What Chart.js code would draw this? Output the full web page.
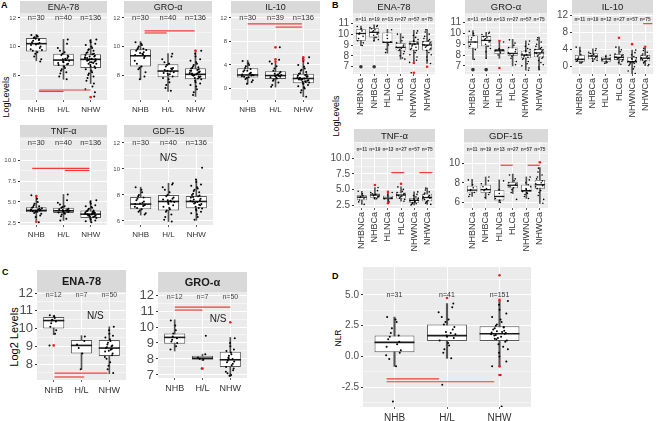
<!DOCTYPE html>
<html>
<head>
<meta charset="utf-8">
<script src="https://cdn.jsdelivr.net/npm/chart.js@4.4.1/dist/chart.umd.min.js"></script>
<style>
  body { margin: 0; width: 660px; height: 421px; background: #fff; position: relative; overflow: hidden; font-family: "Liberation Sans", Arial, sans-serif; }
  canvas { position: absolute; }
  .lab { position: absolute; font-weight: bold; font-size: 9px; color: #000; }
  .yt { position: absolute; transform: translate(-50%, -50%) rotate(-90deg); white-space: nowrap; color: #000; }
</style>
</head>
<body>
<div class="lab" style="left:1px;top:0px">A</div>
<div class="lab" style="left:332px;top:0px">B</div>
<div class="lab" style="left:2px;top:267px">C</div>
<div class="lab" style="left:332px;top:271px">D</div>
<div class="yt" style="left:6px;top:97px;font-size:9px">LogLevels</div>
<div class="yt" style="left:336px;top:116px;font-size:9px">LogLevels</div>
<div class="yt" style="left:14px;top:337px;font-size:11px">Log2 Levels</div>
<div class="yt" style="left:338px;top:338px;font-size:8.5px">NLR</div>
<script>
// groups and counts
const groups3 = ['NHB', 'H/L', 'NHW'];
const groups6 = ['NHBNCa', 'NHBCa', 'HLNCa', 'HLCa', 'NHWNCa', 'NHWCa'];
const nA = ['n=30', 'n=40', 'n=136'];
const nAil10 = ['n=30', 'n=39', 'n=136'];
const nB = ['n=11', 'n=19', 'n=13', 'n=27', 'n=57', 'n=75'];
const nBil10 = ['n=11', 'n=19', 'n=12', 'n=27', 'n=57', 'n=75'];
const nC = ['n=12', 'n=7', 'n=50'];
const nD = ['n=31', 'n=41', 'n=151'];

// box stats per group: [lower whisker, q1, median, q3, upper whisker]
// significance bars: [from group, to group, level]

// --- A: ENA-78
const aEnaBox = [[9.0, 9.65, 10.2, 10.6, 10.85], [7.7, 8.65, 9.05, 9.5, 10.5], [7.4, 8.5, 9.1, 9.45, 10.5]];
const aEnaPts = [
  [10.8, 10.75, 10.7, 10.65, 10.6, 10.5, 10.4, 10.3, 10.25, 10.2, 10.1, 10.0, 9.9, 9.8, 9.7, 9.6, 9.5, 9.3, 9.1, 8.95, 10.55, 10.45, 9.75, 10.15],
  [10.5, 10.2, 9.9, 9.7, 9.6, 9.5, 9.4, 9.3, 9.2, 9.1, 9.05, 9.0, 8.95, 8.9, 8.8, 8.7, 8.6, 8.5, 8.4, 8.3, 8.2, 8.1, 7.9, 7.7, 9.15, 8.85, 9.35, 8.75],
  [10.5, 10.4, 10.3, 10.2, 10.1, 10.0, 9.9, 9.8, 9.75, 9.7, 9.6, 9.55, 9.5, 9.45, 9.4, 9.35, 9.3, 9.25, 9.2, 9.15, 9.1, 9.05, 9.0, 8.95, 8.9, 8.85, 8.8, 8.7, 8.6, 8.5, 8.4, 8.3, 8.2, 8.1, 8.0, 7.9, 7.8, 7.6, 7.4, 7.2, 7.0, 6.8, 6.5, 9.2, 9.0, 8.9, 9.3, 8.8, 9.1, 8.6]
];
const aEnaRed = [[], [], [6.45]];
const aEnaSig = [[1.1, 3.0, 6.95], [1.1, 2.0, 6.85]];
const aEnaTicks = [8, 10, 12];

// --- A: GRO-α
const aGroBox = [[7.7, 8.6, 9.35, 9.8, 10.35], [6.85, 7.85, 8.28, 8.75, 9.5], [6.5, 7.7, 8.05, 8.47, 9.75]];
const aGroPts = [
  [10.3, 10.2, 10.1, 10.0, 9.9, 9.85, 9.8, 9.7, 9.6, 9.5, 9.4, 9.3, 9.2, 9.0, 8.8, 8.6, 8.5, 8.4, 8.2, 7.9, 7.7, 9.45, 9.75, 9.55],
  [9.5, 9.3, 9.1, 8.9, 8.8, 8.7, 8.6, 8.5, 8.4, 8.3, 8.25, 8.2, 8.1, 8.0, 7.9, 7.8, 7.7, 7.5, 7.3, 7.1, 6.9, 8.35, 8.15, 8.45, 8.05],
  [9.7, 9.5, 9.3, 9.1, 9.0, 8.9, 8.8, 8.7, 8.6, 8.55, 8.5, 8.45, 8.4, 8.35, 8.3, 8.25, 8.2, 8.15, 8.1, 8.05, 8.0, 7.95, 7.9, 7.85, 7.8, 7.75, 7.7, 7.6, 7.5, 7.4, 7.3, 7.2, 7.0, 6.8, 6.6, 8.2, 8.0, 8.3, 7.9, 8.1]
];
const aGroRed = [[], [], [9.7]];
const aGroSig = [[1.15, 2.97, 11.1], [1.15, 1.95, 10.95]];
const aGroTicks = [8, 10, 12];

// --- A: IL-10
const aIlBox = [[0.75, 1.85, 2.3, 3.45, 4.8], [0.25, 1.6, 2.2, 2.95, 4.3], [-1.4, 0.9, 1.7, 2.5, 5.1]];
const aIlPts = [
  [4.7, 4.3, 4.0, 3.8, 3.5, 3.3, 3.1, 2.9, 2.7, 2.5, 2.4, 2.3, 2.2, 2.1, 2.0, 1.9, 1.8, 1.6, 1.4, 1.1, 0.8, 2.6, 2.25, 3.0],
  [7.0, 4.9, 4.6, 4.2, 3.8, 3.4, 3.0, 2.8, 2.6, 2.5, 2.4, 2.3, 2.2, 2.1, 2.0, 1.9, 1.8, 1.7, 1.5, 1.3, 1.0, 0.6, 0.3, 2.15, 2.35],
  [5.3, 5.0, 4.7, 4.3, 4.0, 3.7, 3.4, 3.2, 3.0, 2.8, 2.6, 2.5, 2.4, 2.3, 2.2, 2.1, 2.0, 1.9, 1.8, 1.7, 1.6, 1.5, 1.4, 1.3, 1.2, 1.1, 1.0, 0.9, 0.8, 0.6, 0.4, 0.2, 0.0, -0.3, -0.7, -1.4, 1.75, 1.55, 2.05, 1.25]
];
const aIlRed = [[], [7.0, 4.95, 4.55], [5.3, 4.9]];
const aIlSig = [[1.0, 2.95, 11.0], [2.0, 2.95, 10.45]];
const aIlTicks = [0, 4, 8, 12];

// --- A: TNF-α
const aTnfBox = [[2.8, 3.77, 4.0, 4.37, 5.8], [2.8, 3.7, 3.95, 4.3, 5.9], [2.6, 3.1, 3.55, 4.0, 5.2]];
const aTnfPts = [
  [5.8, 5.4, 5.0, 4.8, 4.6, 4.5, 4.4, 4.3, 4.2, 4.15, 4.1, 4.05, 4.0, 3.95, 3.9, 3.85, 3.8, 3.7, 3.6, 3.4, 3.2, 2.6, 4.25, 3.9],
  [5.9, 5.2, 4.9, 4.7, 4.5, 4.4, 4.3, 4.2, 4.1, 4.05, 4.0, 3.95, 3.9, 3.85, 3.8, 3.75, 3.7, 3.6, 3.5, 3.3, 3.0, 2.8, 4.15, 3.98],
  [5.2, 5.0, 4.8, 4.6, 4.5, 4.4, 4.3, 4.2, 4.1, 4.0, 3.95, 3.9, 3.85, 3.8, 3.75, 3.7, 3.65, 3.6, 3.55, 3.5, 3.45, 3.4, 3.35, 3.3, 3.25, 3.2, 3.1, 3.0, 2.9, 2.8, 2.7, 2.6, 3.6, 3.5, 3.4, 3.7]
];
const aTnfRed = [[5.7, 2.65], [], []];
const aTnfSig = [[0.85, 2.95, 9.0], [2.05, 2.95, 8.75]];
const aTnfTicks = [2.5, 5, 7.5, 10];
const aTnfTickLabels = ['2.5', '5.0', '7.5', '10.0'];

// --- A: GDF-15
const aGdfBox = [[6.45, 6.9, 7.3, 7.85, 8.6], [5.95, 6.8, 7.5, 8.0, 8.9], [6.05, 6.97, 7.5, 7.92, 9.2]];
const aGdfPts = [
  [8.6, 8.4, 8.2, 8.0, 7.9, 7.8, 7.7, 7.6, 7.5, 7.4, 7.3, 7.25, 7.2, 7.1, 7.0, 6.9, 6.8, 6.7, 6.6, 6.5, 7.35, 7.15],
  [8.9, 8.8, 8.6, 8.4, 8.2, 8.0, 7.9, 7.8, 7.7, 7.6, 7.5, 7.45, 7.4, 7.3, 7.2, 7.1, 7.0, 6.9, 6.8, 6.7, 6.5, 6.3, 6.1, 5.95, 7.55, 7.65],
  [10.1, 9.2, 9.0, 8.8, 8.7, 8.6, 8.5, 8.4, 8.3, 8.2, 8.1, 8.0, 7.95, 7.9, 7.8, 7.7, 7.6, 7.55, 7.5, 7.45, 7.4, 7.35, 7.3, 7.2, 7.1, 7.0, 6.95, 6.9, 6.8, 6.7, 6.6, 6.5, 6.3, 6.1, 7.65, 7.25, 7.85]
];
const aGdfTicks = [6, 8, 10, 12];

// --- B: ENA-78
const bEnaBox = [[8.95, 9.4, 10.06, 10.45, 10.75], [9.35, 9.7, 10.17, 10.55, 10.85], [8.25, 9.2, 9.25, 10.15, 10.45],
  [7.7, 8.5, 8.78, 9.2, 10.05], [7.45, 8.5, 9.1, 9.35, 10.35], [7.3, 8.5, 9.0, 9.35, 10.45]];
const bEnaPts = [
  [10.7, 10.5, 10.3, 10.1, 10.0, 9.8, 9.6, 9.4, 9.2, 8.95],
  [10.8, 10.7, 10.6, 10.5, 10.4, 10.3, 10.2, 10.1, 10.0, 9.9, 9.7, 9.5, 9.4],
  [10.4, 9.9, 9.6, 9.3, 9.25, 9.2, 9.0, 8.6, 8.3],
  [10.0, 9.7, 9.4, 9.2, 9.0, 8.9, 8.8, 8.75, 8.7, 8.6, 8.5, 8.4, 8.2, 8.0, 7.8, 7.7],
  [10.3, 10.1, 9.9, 9.7, 9.5, 9.4, 9.3, 9.2, 9.15, 9.1, 9.05, 9.0, 8.9, 8.8, 8.7, 8.6, 8.5, 8.3, 8.1, 7.9, 7.6, 7.4, 6.45],
  [10.4, 10.2, 10.0, 9.8, 9.6, 9.5, 9.4, 9.3, 9.2, 9.1, 9.05, 9.0, 8.95, 8.9, 8.8, 8.7, 8.6, 8.5, 8.3, 8.1, 7.9, 7.6, 7.3]
];
const bEnaOut = [[7.0], [7.0], [], [], [], []];
const bEnaRed = [[], [], [], [], [7.35, 6.45], [7.0]];
const bEnaTicks = [7, 8, 9, 10, 11];

// --- B: GRO-α
const bGroBox = [[7.6, 8.6, 9.2, 9.8, 10.25], [7.7, 8.8, 9.35, 9.75, 10.1], [7.7, 8.1, 8.4, 8.55, 9.2],
  [7.0, 7.9, 8.15, 8.7, 9.45], [6.6, 7.7, 8.0, 8.4, 9.3], [6.6, 7.8, 8.2, 8.55, 9.65]];
const bGroPts = [
  [10.2, 10.0, 9.8, 9.6, 9.4, 9.2, 9.0, 8.8, 8.5, 7.6],
  [10.1, 10.0, 9.9, 9.7, 9.6, 9.5, 9.4, 9.3, 9.2, 9.0, 8.8, 8.6, 8.3, 7.7],
  [9.2, 8.6, 8.5, 8.45, 8.4, 8.3, 8.2, 8.0],
  [9.4, 9.1, 8.9, 8.7, 8.5, 8.3, 8.2, 8.1, 8.0, 7.9, 7.7, 7.4, 7.1],
  [9.3, 9.0, 8.8, 8.6, 8.5, 8.4, 8.3, 8.2, 8.1, 8.05, 8.0, 7.95, 7.9, 7.8, 7.7, 7.6, 7.4, 7.2, 7.0, 6.8, 6.6],
  [9.6, 9.4, 9.2, 9.0, 8.8, 8.7, 8.6, 8.5, 8.4, 8.3, 8.2, 8.15, 8.1, 8.0, 7.9, 7.8, 7.7, 7.5, 7.3, 7.1, 6.9, 6.7]
];
const bGroOut = [[6.65], [6.65], [], [], [], []];
const bGroRed = [[], [], [9.3, 6.8], [], [], []];
const bGroTicks = [7, 8, 9, 10, 11];

// --- B: IL-10
const bIlBox = [[0.8, 1.2, 1.75, 2.75, 4.6], [1.2, 1.75, 2.5, 3.15, 4.2], [0.8, 1.2, 1.8, 2.35, 2.75],
  [0.6, 1.6, 2.2, 3.0, 4.7], [-1.6, 0.8, 1.2, 2.2, 3.9], [0.25, 1.3, 2.0, 2.75, 4.35]];
const bIlPts = [
  [4.6, 3.7, 2.8, 2.3, 1.9, 1.7, 1.5, 1.3, 1.1, 0.9],
  [4.2, 3.8, 3.4, 3.1, 2.9, 2.7, 2.5, 2.4, 2.2, 2.0, 1.8, 1.5, 1.3],
  [2.7, 2.4, 2.0, 1.8, 1.6, 1.3, 1.0, 0.8],
  [4.6, 4.0, 3.5, 3.0, 2.7, 2.5, 2.3, 2.2, 2.1, 2.0, 1.8, 1.6, 1.3, 1.0, 0.6],
  [3.9, 3.3, 2.8, 2.4, 2.1, 1.9, 1.7, 1.5, 1.3, 1.2, 1.1, 1.0, 0.9, 0.8, 0.6, 0.3, 0.0, -0.5, -1.0, -1.6],
  [4.3, 3.8, 3.4, 3.0, 2.7, 2.5, 2.3, 2.1, 2.0, 1.9, 1.8, 1.6, 1.4, 1.2, 0.9, 0.5, 0.25]
];
const bIlRed = [[], [], [], [6.8], [5.3], [4.7]];
const bIlSig = [[5.85, 6.55, 10.1]];
const bIlTicks = [0, 4, 8, 12];

// --- B: TNF-α
const bTnfBox = [[2.6, 3.25, 3.75, 4.05, 4.7], [3.4, 3.65, 4.1, 4.35, 5.3], [2.9, 3.4, 3.6, 4.0, 4.5],
  [3.1, 3.55, 4.1, 4.5, 5.4], [2.5, 2.85, 3.25, 3.65, 4.6], [2.6, 3.1, 3.7, 4.3, 5.2]];
const bTnfPts = [
  [4.7, 4.3, 4.0, 3.8, 3.7, 3.5, 3.3, 3.0, 2.6],
  [5.3, 4.8, 4.5, 4.3, 4.2, 4.1, 4.0, 3.9, 3.8, 3.6, 3.5],
  [4.5, 4.1, 3.8, 3.6, 3.5, 3.3, 3.0],
  [5.4, 5.0, 4.7, 4.5, 4.3, 4.2, 4.1, 4.0, 3.9, 3.8, 3.6, 3.4, 3.1],
  [4.6, 4.2, 4.0, 3.8, 3.6, 3.5, 3.4, 3.3, 3.2, 3.1, 3.0, 2.9, 2.8, 2.7, 2.6, 2.5],
  [5.2, 4.9, 4.6, 4.4, 4.2, 4.0, 3.9, 3.8, 3.7, 3.6, 3.5, 3.4, 3.2, 3.0, 2.8, 2.6]
];
const bTnfRed = [[], [5.7], [4.6, 2.8], [5.9], [], []];
const bTnfSig = [[3.25, 4.25, 7.7], [5.4, 6.4, 7.7]];
const bTnfTicks = [2.5, 5, 7.5, 10];
const bTnfTickLabels = ['2.5', '5.0', '7.5', '10.0'];

// --- B: GDF-15
const bGdfBox = [[6.6, 7.0, 7.25, 7.7, 8.35], [6.35, 6.95, 7.3, 7.8, 8.6], [6.0, 6.2, 6.6, 7.25, 8.3],
  [6.9, 7.45, 7.75, 8.1, 8.9], [6.4, 7.05, 7.2, 7.8, 8.6], [5.9, 7.4, 7.8, 8.3, 9.55]];
const bGdfPts = [
  [8.3, 7.8, 7.5, 7.3, 7.2, 7.0, 6.8, 6.6],
  [8.6, 8.2, 7.9, 7.6, 7.4, 7.3, 7.2, 7.0, 6.8, 6.5],
  [8.2, 7.3, 6.9, 6.6, 6.4, 6.2, 6.0],
  [8.8, 8.4, 8.2, 8.0, 7.9, 7.8, 7.7, 7.6, 7.5, 7.3, 7.0, 6.3],
  [8.6, 8.3, 8.0, 7.8, 7.6, 7.4, 7.3, 7.2, 7.1, 7.0, 6.9, 6.8, 6.6, 6.4],
  [9.5, 9.1, 8.8, 8.6, 8.4, 8.2, 8.0, 7.9, 7.8, 7.7, 7.6, 7.4, 7.2, 7.0, 6.7, 6.3, 5.9]
];
const bGdfRed = [[], [], [], [], [], [10.1]];
const bGdfSig = [[3.1, 4.0, 9.8], [5.1, 6.0, 9.8]];
const bGdfTicks = [6, 8, 10];

// --- C: ENA-78 and GRO-α
const cEnaBox = [[9.65, 10.0, 10.45, 10.65, 10.75], [7.7, 8.6, 9.05, 9.35, 9.6], [7.45, 8.45, 8.9, 9.35, 10.1]];
const cEnaPts = [
  [10.75, 10.7, 10.6, 10.5, 10.45, 10.4, 10.3, 10.1, 9.9, 9.7, 9.05],
  [9.55, 9.3, 9.1, 8.9, 8.6, 7.7],
  [10.1, 9.9, 9.7, 9.6, 9.5, 9.4, 9.3, 9.2, 9.1, 9.0, 8.95, 8.9, 8.85, 8.8, 8.7, 8.6, 8.5, 8.4, 8.3, 8.1, 7.9, 7.7, 7.5, 9.05, 8.75]
];
const cEnaRed = [[9.05], [], []];
const cEnaSig = [[1.03, 2.94, 7.49], [1.03, 2.1, 7.27]];
const cEnaTicks = [8, 9, 10, 11, 12];

const cGroBox = [[8.5, 8.95, 9.35, 9.6, 10.45], [7.9, 7.95, 8.05, 8.2, 8.3], [6.9, 7.5, 7.95, 8.45, 9.35]];
const cGroPts = [
  [10.4, 10.1, 9.8, 9.6, 9.4, 9.3, 9.2, 9.1, 9.0, 8.8, 8.6],
  [9.45, 8.3, 8.1, 8.0, 7.95, 7.4],
  [9.3, 9.0, 8.8, 8.6, 8.5, 8.4, 8.3, 8.2, 8.1, 8.0, 7.9, 7.8, 7.7, 7.6, 7.5, 7.4, 7.3, 7.2, 7.1, 7.0, 6.95, 8.05, 7.85]
];
const cGroRed = [[], [7.4], [10.3]];
const cGroSig = [[1.0, 3.0, 11.25], [1.0, 2.0, 11.06]];
const cGroTicks = [7, 8, 9, 10, 11, 12];

// --- D: NLR
const dBox = [[-0.8, 0.35, 1.15, 1.7, 3.2], [-0.15, 1.25, 1.7, 2.6, 4.3], [-0.8, 1.25, 1.85, 2.45, 4.55]];
const dPts = [
  [3.2, 3.0, 2.8, 2.3, 1.9, 1.7, 1.6, 1.4, 1.2, 1.0, 0.8, 0.5, 0.3, 0.1, -0.2, -0.8, -3.65],
  [4.3, 4.0, 3.6, 3.2, 3.0, 2.8, 2.6, 2.4, 2.2, 2.0, 1.9, 1.8, 1.7, 1.6, 1.5, 1.3, 1.1, 0.9, 0.6, 0.3, -0.15, -2.3],
  [4.5, 4.2, 3.8, 3.5, 3.2, 3.0, 2.8, 2.6, 2.5, 2.4, 2.3, 2.2, 2.1, 2.0, 1.95, 1.9, 1.85, 1.8, 1.7, 1.6, 1.5, 1.4, 1.3, 1.2, 1.0, 0.8, 0.6, 0.3, 0.0, -0.4, -0.8, -1.5, -4.05, 2.05, 1.75, 2.35, 1.45]
];
const dRed = [[], [4.75], [6.6, 4.6, -0.8, -1.5]];
const dSig = [[0.85, 1.85, -1.81], [0.85, 2.9, -2.05]];
const dTicks = [-2.5, 0, 2.5, 5];
const dTickLabels = ['-2.5', '0.0', '2.5', '5.0'];

// ---------------------------------------------------------------
const FONT = '"Liberation Sans", Arial, sans-serif';
const BOX_W = 0.76;
const JIT = [-0.14, 0.07, -0.03, 0.12, -0.09, 0.02, 0.16, -0.06, 0.1, -0.12, 0.04, -0.01, 0.14, -0.16, 0.09, -0.05, 0.0, 0.11, -0.1, 0.05, -0.07, 0.13, -0.02, 0.03, -0.15, 0.08];

const facet = {
  id: 'facet',
  beforeDraw(chart, _a, o) {
    const { ctx, chartArea: a } = chart;
    ctx.save();
    ctx.fillStyle = '#EBEBEB';
    ctx.fillRect(a.left, a.top, a.width, a.height);
    if (o.title) {
      ctx.fillStyle = '#D9D9D9';
      ctx.fillRect(a.left, a.top - o.strip, a.width, o.strip);
      ctx.fillStyle = '#1A1A1A';
      ctx.font = o.titleFont;
      ctx.textAlign = 'center';
      ctx.textBaseline = 'middle';
      ctx.fillText(o.title, (a.left + a.right) / 2, a.top - o.strip / 2 + 0.5);
    }
    ctx.restore();
  },
  afterDraw(chart, _a, o) {
    const { ctx, scales: { x, y } } = chart;
    ctx.save();
    ctx.textAlign = 'center';
    ctx.textBaseline = 'middle';
    ctx.fillStyle = o.nColor;
    ctx.font = o.nFont;
    o.n.forEach((t, i) => ctx.fillText(t, x.getPixelForValue(i + 1), y.getPixelForValue(o.nY)));
    if (o.ns) {
      ctx.font = o.nsFont;
      ctx.fillStyle = '#1A1A1A';
      ctx.fillText('N/S', x.getPixelForValue(o.ns[0]), y.getPixelForValue(o.ns[1]));
    }
    ctx.restore();
  }
};

function panel(p) {
  const W = p.yW + p.w + 1, H = p.strip + p.h + p.xH;
  const cv = document.createElement('canvas');
  cv.width = W; cv.height = H;
  cv.style.left = (p.x - p.yW) + 'px';
  cv.style.top = (p.y - p.strip) + 'px';
  cv.style.width = W + 'px';
  cv.style.height = H + 'px';
  document.body.appendChild(cv);

  const k = p.labels.length;
  const major = new Set(p.ticks);
  const tickText = p.tickLabels || p.ticks.map(String);
  const step = p.ticks[1] - p.ticks[0];
  const yt = [];
  for (let v = p.ticks[0] - step / 2; v <= p.yMax; v += step / 2) if (v >= p.yMin) yt.push(+v.toFixed(3));

  const at = (arr, jit) => arr.flatMap((vals, i) => vals.map((v, j) => ({
    x: i + 1 + (jit ? JIT[(j * 5 + i * 3) % JIT.length] * p.jw : 0), y: v
  })));
  const halfBox = (c) => {
    const s = c.chart.scales.x;
    return Math.abs(s.getPixelForValue(1 + BOX_W / 2) - s.getPixelForValue(1));
  };

  const datasets = [
    { type: 'bar', order: 6, grouped: false, data: p.box.map((b, i) => ({ x: i + 1, y: [b[0], b[4]] })),
      backgroundColor: '#555555', barThickness: p.whW || 1, borderWidth: 0 },
    { type: 'bar', order: 5, grouped: false, data: p.box.map((b, i) => ({ x: i + 1, y: [b[1], b[3]] })),
      backgroundColor: '#FFFFFF', borderColor: '#595959', borderWidth: p.boxLW || 1, borderSkipped: false,
      barPercentage: BOX_W, categoryPercentage: 1 },
    { type: 'scatter', order: 4, data: p.box.map((b, i) => ({ x: i + 1, y: b[2] })), pointStyle: 'line',
      pointRadius: halfBox, pointBorderWidth: p.medW || 1.6, pointBorderColor: '#1A1A1A' },
    { type: 'scatter', order: 3, data: at(p.out || [], false), pointRadius: 1.8,
      pointBackgroundColor: '#333333', pointBorderWidth: 0 },
    { type: 'scatter', order: 2, data: at(p.pts, true), pointRadius: p.ptR,
      pointBackgroundColor: '#000000', pointBorderWidth: 0 },
    { type: 'scatter', order: 1, data: at(p.red || [], false), pointRadius: p.redR || 1.3,
      pointBackgroundColor: '#FF1A1A', pointBorderWidth: 0 }
  ];
  (p.sig || []).forEach(s => datasets.push({
    type: 'line', order: 0, data: [{ x: s[0], y: s[2] }, { x: s[1], y: s[2] }],
    borderColor: '#F23B3B', borderWidth: 1.2, pointRadius: 0
  }));

  new Chart(cv, {
    type: 'scatter',
    data: { datasets },
    plugins: [facet],
    options: {
      responsive: false, animation: false, devicePixelRatio: 1, events: [],
      layout: { padding: { top: p.strip, right: 1, left: 0, bottom: 0 } },
      plugins: {
        legend: { display: false }, tooltip: { enabled: false },
        facet: { title: p.title, strip: p.strip, titleFont: p.titleFont, n: p.n, nY: p.nY,
          nFont: p.nFont, nColor: p.nColor || '#333333', ns: p.ns, nsFont: p.nsFont }
      },
      scales: {
        x: {
          type: 'linear', min: 0.4, max: k + 0.6, offset: false,
          afterBuildTicks: s => { s.ticks = p.labels.map((_, i) => ({ value: i + 1 })); },
          afterFit: s => { s.height = p.xH; s.paddingLeft = 0; s.paddingRight = 0; },
          ticks: { autoSkip: false, callback: v => p.labels[Math.round(v) - 1], maxRotation: p.rot || 0,
            minRotation: p.rot || 0, padding: p.xPad, color: '#333333', font: { family: FONT, size: p.xFs } },
          grid: { color: '#FFFFFF', lineWidth: 1, offset: false, tickLength: 2, tickColor: '#333333', tickWidth: 0.8 },
          border: { display: false }
        },
        y: {
          type: 'linear', min: p.yMin, max: p.yMax, beginAtZero: false,
          afterBuildTicks: s => { s.ticks = yt.map(v => ({ value: v })); },
          afterFit: s => { s.width = p.yW; s.paddingTop = 0; s.paddingBottom = 0; },
          ticks: { autoSkip: false, padding: 2, color: '#4D4D4D', font: { family: FONT, size: p.yFs },
            callback: v => major.has(v) ? tickText[p.ticks.indexOf(v)] : '' },
          grid: { color: '#FFFFFF', tickLength: 2,
            lineWidth: c => (c.tick && major.has(c.tick.value)) ? 1 : 0.5,
            tickColor: c => (c.tick && major.has(c.tick.value)) ? '#333333' : 'rgba(0,0,0,0)' },
          border: { display: false }
        }
      }
    }
  });
}

// A styles
const aRow = { strip: 12, xH: 16, xPad: 3, xFs: 8, yFs: 6, titleFont: '9px ' + FONT, nFont: '7.5px ' + FONT, ptR: 1, jw: 1.3, labels: groups3 };
panel({ ...aRow, x: 20, y: 13, w: 90, h: 87, yW: 16, title: 'ENA-78', n: nA, nY: 12, box: aEnaBox, pts: aEnaPts, red: aEnaRed, sig: aEnaSig, yMin: 6.25, yMax: 12.35, ticks: aEnaTicks });
panel({ ...aRow, x: 124, y: 13, w: 91, h: 87, yW: 14, title: 'GRO-α', n: nA, nY: 12, box: aGroBox, pts: aGroPts, red: aGroRed, sig: aGroSig, yMin: 6.25, yMax: 12.35, ticks: aGroTicks });
panel({ ...aRow, x: 231, y: 13, w: 92, h: 87, yW: 14, title: 'IL-10', n: nAil10, nY: 12, box: aIlBox, pts: aIlPts, red: aIlRed, sig: aIlSig, yMin: -1.96, yMax: 12.85, ticks: aIlTicks });
panel({ ...aRow, x: 20, y: 137, w: 90, h: 88, yW: 20, title: 'TNF-α', n: nA, nY: 12, box: aTnfBox, pts: aTnfPts, red: aTnfRed, sig: aTnfSig, yMin: 2.26, yMax: 12.74, ticks: aTnfTicks, tickLabels: aTnfTickLabels });
panel({ ...aRow, x: 124, y: 137, w: 92, h: 88, yW: 14, title: 'GDF-15', n: nA, nY: 12, box: aGdfBox, pts: aGdfPts, yMin: 5.69, yMax: 12.46, ticks: aGdfTicks, ns: [2, 10.8], nsFont: '10.5px ' + FONT });

// B styles
const bRow = { strip: 13, xPad: 2, xFs: 9, yFs: 10, rot: 90, titleFont: '9.5px ' + FONT, nFont: 'bold 4.8px ' + FONT, nColor: '#444444', ptR: 0.8, jw: 2.0, labels: groups6, medW: 1.3, boxLW: 0.8 };
panel({ ...bRow, x: 353, y: 13, w: 85, h: 61, xH: 48, yW: 16, title: 'ENA-78', n: nB, nY: 11.3, box: bEnaBox, pts: bEnaPts, out: bEnaOut, red: bEnaRed, yMin: 6.33, yMax: 11.95, ticks: bEnaTicks });
panel({ ...bRow, x: 465, y: 13, w: 85, h: 61, xH: 48, yW: 16, title: 'GRO-α', n: nB, nY: 11.3, box: bGroBox, pts: bGroPts, out: bGroOut, red: bGroRed, yMin: 6.25, yMax: 11.88, ticks: bGroTicks });
panel({ ...bRow, x: 572, y: 13, w: 84, h: 61, xH: 48, yW: 16, title: 'IL-10', n: nBil10, nY: 11, box: bIlBox, pts: bIlPts, red: bIlRed, sig: bIlSig, yMin: -1.7, yMax: 12.6, ticks: bIlTicks });
panel({ ...bRow, x: 354, y: 142, w: 84, h: 66, xH: 50, yW: 24, title: 'TNF-α', n: nB, nY: 11.3, box: bTnfBox, pts: bTnfPts, red: bTnfRed, sig: bTnfSig, yMin: 2.02, yMax: 12.6, ticks: bTnfTicks, tickLabels: bTnfTickLabels });
panel({ ...bRow, x: 464, y: 142, w: 87, h: 66, xH: 50, yW: 16, title: 'GDF-15', n: nB, nY: 11.36, box: bGdfBox, pts: bGdfPts, red: bGdfRed, sig: bGdfSig, yMin: 5.42, yMax: 12.18, ticks: bGdfTicks });

// C styles
const cRow = { xH: 20, xPad: 3, xFs: 9, yFs: 13, titleFont: 'bold 11px ' + FONT, nFont: '7px ' + FONT, nColor: '#444444', ptR: 1, jw: 1.0, labels: groups3, nsFont: '10px ' + FONT };
panel({ ...cRow, x: 37, y: 292, w: 92, h: 88, strip: 22, yW: 22, title: 'ENA-78', n: nC, nY: 11.9, box: cEnaBox, pts: cEnaPts, red: cEnaRed, sig: cEnaSig, yMin: 7.1, yMax: 12.06, ticks: cEnaTicks, ns: [2.5, 10.7] });
panel({ ...cRow, x: 158, y: 292, w: 92, h: 86, strip: 20, yW: 22, title: 'GRO-α', n: nC, nY: 11.9, box: cGroBox, pts: cGroPts, red: cGroRed, sig: cGroSig, yMin: 6.81, yMax: 12.19, ticks: cGroTicks, ns: [2.56, 10.5] });

// D
panel({ x: 363, y: 263, w: 171, h: 144, strip: 0, xH: 14, yW: 24, xPad: 3, xFs: 10, yFs: 10, nFont: '7px ' + FONT, ptR: 1, jw: 1.0, labels: groups3, n: nD, nY: 5, box: dBox, pts: dPts, red: dRed, sig: dSig, yMin: -4.1, yMax: 7.27, ticks: dTicks, tickLabels: dTickLabels, whW: 1.5 });
</script>
</body>
</html>
